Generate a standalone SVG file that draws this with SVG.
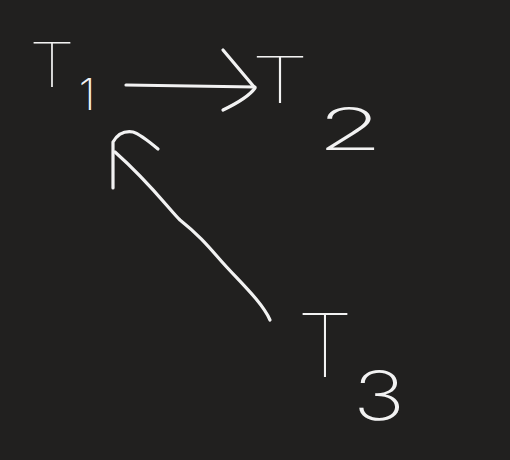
<svg xmlns="http://www.w3.org/2000/svg" width="510" height="460" viewBox="0 0 510 460">
<style>
.bg{fill:#21201f}
.ink{fill:none;stroke:#f2f2f2;stroke-width:3.2;stroke-linecap:round;stroke-linejoin:round}
.t{fill:#f2f2f2;font-family:Inter,"DejaVu Sans",sans-serif;font-weight:100;text-anchor:middle}
.s{fill:#f2f2f2;font-family:Inter,"DejaVu Sans",sans-serif;font-weight:200;text-anchor:middle}
</style>
<rect class="bg" x="0" y="0" width="510" height="460"/>
<g id="T1">
<text class="t" font-size="62" x="52" y="87" textLength="46" lengthAdjust="spacingAndGlyphs">T</text>
<text class="s" font-size="44" x="87" y="110">1</text>
</g>
<g id="T2">
<text class="t" font-size="64" x="280" y="103" textLength="58" lengthAdjust="spacingAndGlyphs">T</text>
<text class="s" font-size="58" x="350" y="150" textLength="66" lengthAdjust="spacingAndGlyphs">2</text>
</g>
<g id="T3">
<text class="t" font-size="88" x="325" y="377" textLength="56" lengthAdjust="spacingAndGlyphs">T</text>
<text class="s" font-size="68" x="379" y="420" textLength="52" lengthAdjust="spacingAndGlyphs">3</text>
</g>
<g id="connectors">
<path class="ink" d="M126,85 L255,87"/>
<path class="ink" d="M223,50 L255,88 Q248,98 223,110"/>
<path class="ink" d="M270,320 C262,302 240,282 223,263 C208,246 200,236 180,220 C168,208 150,183 115,152"/>
<path class="ink" d="M113,188 L113,142 Q120,130 133,132 Q140,134 158,149"/>
</g>
</svg>
